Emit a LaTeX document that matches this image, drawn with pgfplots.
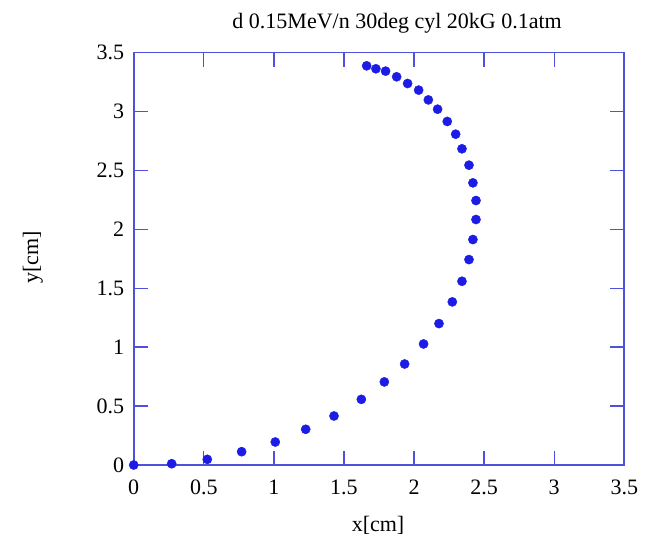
\documentclass[border=0pt]{standalone}
\usepackage{fontspec}
\setmainfont{Liberation Serif}
\usepackage{pgfplots}
\pgfplotsset{compat=1.18}
\definecolor{frameblue}{RGB}{80,80,222}
\definecolor{dotblue}{RGB}{28,28,228}
\begin{document}
\begin{tikzpicture}
\useasboundingbox (-133.7pt,-77pt) rectangle (515.3pt,465pt);
\begin{axis}[
  at={(0,0)}, anchor=south west,
  scale only axis,
  width=490.6pt, height=412.5pt,
  xmin=0, xmax=3.5, ymin=0, ymax=3.5,
  xtick={0,0.5,...,3.5}, ytick={0,0.5,...,3.5},
  tick align=inside,
  major tick length=14pt,
  axis line style={frameblue, line width=1.8pt},
  major tick style={frameblue, line width=1.4pt},
  tick label style={font=\fontsize{22}{26}\selectfont, black, /pgf/number format/assume math mode=true},
  xticklabel style={yshift=-11pt},
  yticklabel style={xshift=-6pt},
  xlabel={x[cm]},
  ylabel={y[cm]},
  every axis x label/.style={at={(axis description cs:0.498,-0.162)}, anchor=base, font=\fontsize{22}{26}\selectfont},
  every axis y label/.style={at={(axis description cs:-0.2053,0.504)}, anchor=center, rotate=90, font=\fontsize{22}{26}\selectfont},
  title={d 0.15MeV/n 30deg cyl 20kG 0.1atm},
  every axis title/.style={at={(axis description cs:0.537,1.057)}, anchor=base, font=\fontsize{22}{26}\selectfont},
  clip=false,
]
\addplot[only marks, mark=*, mark size=4.6pt, mark options={draw=dotblue, fill=dotblue}, color=dotblue] coordinates {
(0.000,0.000)
(0.271,0.011)
(0.525,0.048)
(0.770,0.113)
(1.010,0.195)
(1.227,0.303)
(1.429,0.416)
(1.624,0.557)
(1.788,0.705)
(1.933,0.857)
(2.068,1.027)
(2.178,1.200)
(2.273,1.384)
(2.342,1.559)
(2.392,1.743)
(2.420,1.913)
(2.442,2.083)
(2.442,2.244)
(2.420,2.394)
(2.392,2.544)
(2.342,2.683)
(2.297,2.807)
(2.237,2.915)
(2.168,3.019)
(2.102,3.098)
(2.033,3.181)
(1.954,3.237)
(1.876,3.294)
(1.797,3.342)
(1.728,3.362)
(1.662,3.387)
};
\end{axis}
\end{tikzpicture}
\end{document}
